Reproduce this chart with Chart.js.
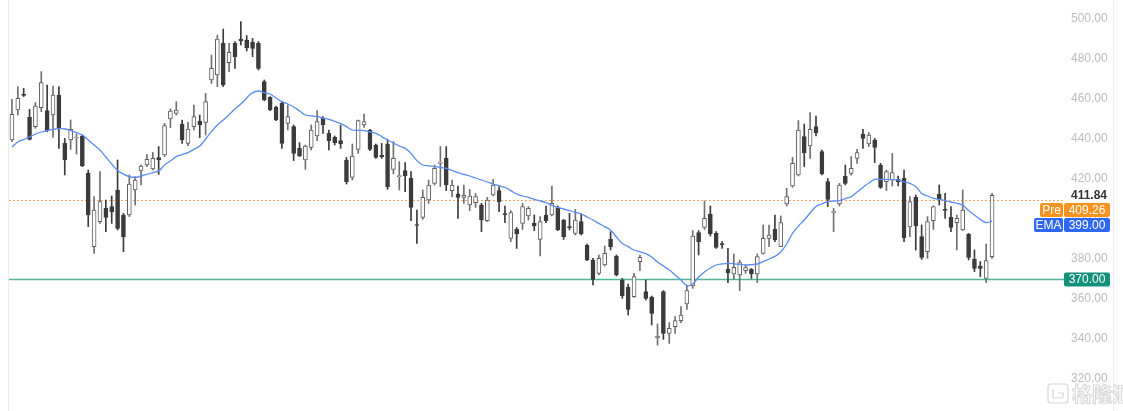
<!DOCTYPE html>
<html>
<head>
<meta charset="utf-8">
<script src="https://cdn.jsdelivr.net/npm/chart.js@4.4.0/dist/chart.umd.min.js"></script>
<style>
  html, body { margin: 0; padding: 0; background: #fff; }
  #wrap { width: 1123px; height: 411px; position: relative; }
</style>
</head>
<body>
<div id="wrap"><canvas id="kline" width="1123" height="411"></canvas></div>
<script>
// 日K数据
const openP = [
  439.5, 454.5, 462.3, 450.8, 446.2, 455.7, 454.2, 452, 462, 437.8,
  439.5, 440.5, 441.5, 422.8, 386.2, 398.7, 405.3, 406.2, 414.5, 402,
  402, 414.5, 424, 427, 425, 430.7, 432, 450, 452.8, 447.3,
  437.8, 446.2, 449, 448.3, 469.5, 472, 487.8, 478.2, 487.8, 490,
  489.5, 488.3, 487.8, 468.7, 460.8, 455.8, 457.8, 447.8, 446.2, 435.3,
  429.5, 435.8, 441.5, 450.3, 442.8, 440.8, 439.2, 429.5, 420.8, 434.8,
  447, 444.5, 437, 431.8, 437.5, 424.8, 421.2, 424.2, 420.3, 397.2,
  400.8, 409.5, 417.8, 427.8, 430.3, 414.2, 412.5, 410.8, 407, 408.2,
  407, 399.2, 412, 414.2, 402.7, 390.3, 394.8, 397.8, 401.5, 397.8,
  389.8, 402, 402, 405.3, 399.5, 396.2, 392.8, 398.7, 387, 379.5,
  372.8, 377, 389.8, 381.5, 369.5, 365.8, 361.2, 378.7, 363.7, 361,
  340.5, 363.7, 342.8, 346.2, 349.2, 357.5, 366.5, 393.2, 395.8, 402.5,
  392.8, 387.7, 374.8, 372.5, 372, 374.2, 374.8, 372.5, 382.8, 390.3,
  394.8, 386.2, 407.5, 416.5, 422, 441.2, 436.5, 446.2, 433.7, 418.7,
  403.2, 407.5, 421.5, 422.8, 430.3, 442.3, 437.5, 439.5, 427, 418.7,
  419.5, 419.8, 420.3, 396, 410.8, 391.2, 383.7, 399.2, 412.3, 404.8,
  400.8, 398.2, 394.5, 392.5, 379.8, 376.5, 370.3, 381.2
];
const highP = [
  459.8, 466.2, 465.3, 454.8, 458.2, 473.7, 467, 466.5, 466.2, 440.3,
  449.5, 442.5, 442, 424.5, 411.2, 423.7, 409.5, 411.5, 429.5, 402.8,
  422, 421.2, 427, 432.3, 433.3, 436.2, 447.8, 455, 458.7, 449.5,
  448.3, 457, 452, 462.8, 482, 492, 495, 487.8, 488.7, 498.7,
  491.7, 490.3, 488.7, 469.5, 461.2, 456.5, 458.7, 457, 447, 438.2,
  437, 447, 454.2, 451.2, 444.5, 441.5, 447, 430.8, 437.5, 449.5,
  452.5, 444.8, 437.5, 437.8, 439.8, 438.7, 428.7, 428.2, 423.7, 404.5,
  414.5, 419.5, 427, 436.2, 436.2, 419.5, 416.5, 417, 414.8, 412.8,
  407.8, 410.8, 419.8, 416.2, 406.5, 404.2, 395.8, 407.8, 406.2, 402,
  401.2, 406.5, 416.5, 406.5, 399.8, 402.8, 404.8, 402.5, 387.5, 380.3,
  382, 386.5, 393.7, 382, 370.3, 367.5, 372.8, 382, 369.5, 361.5,
  347.5, 364.2, 348.2, 351.2, 356.2, 367, 394.2, 394.2, 409, 406.5,
  393.7, 388.7, 385.3, 382.5, 379.5, 377, 375.3, 382.5, 397, 397,
  402, 401.5, 415.3, 430.8, 449.2, 447.5, 453.2, 451.5, 434.5, 420.3,
  405.3, 417.8, 427, 431.2, 434.8, 444.8, 443.2, 440.3, 427.8, 424.5,
  432.8, 421.5, 424.5, 411.2, 412, 397, 401.2, 406.5, 417, 412.8,
  406.2, 402, 414.5, 392.8, 384.5, 378.7, 387.5, 412.8
];
const lowP = [
  438.7, 452, 461.2, 439.5, 445.3, 453.7, 443.7, 440.8, 435.3, 422,
  434.8, 432.5, 426.2, 396.2, 382.8, 397.8, 393.7, 397.8, 394.5, 383.7,
  401.2, 407, 417, 426.2, 424.5, 422.3, 431.2, 445.7, 452, 437.8,
  436.7, 444.5, 440.7, 442, 467.8, 466.2, 466.2, 473.7, 475.3, 487,
  484, 481.2, 474.5, 459.2, 454.2, 449.2, 435.3, 444.5, 429.2, 431.2,
  424.8, 434.5, 439.2, 442.8, 434.5, 437, 435.3, 417.5, 419.5, 432.8,
  445.8, 434.2, 430.3, 430.3, 414.8, 422.5, 414.5, 413.7, 399.2, 387.8,
  399.8, 407.8, 417, 416.2, 414.2, 411.2, 400.3, 407.8, 404.2, 405.8,
  393.7, 398.7, 411.5, 403.7, 398.2, 388.7, 385.3, 394.8, 399.5, 394.2,
  381.5, 398.2, 401.5, 394.2, 389.8, 394.5, 392, 392, 379.2, 367,
  372, 376.5, 384.5, 371.5, 360.3, 352, 360.8, 374.2, 359.5, 347,
  337, 339.8, 337.8, 342.8, 348.2, 354.8, 365.3, 382, 394.8, 391.5,
  385.3, 385.3, 368.2, 369.8, 364.2, 372.8, 370.3, 368.2, 382.5, 386.2,
  388.7, 386.2, 406.5, 415.8, 421.5, 426.2, 430.3, 441.5, 422, 406.2,
  393.7, 406.5, 417, 422, 427.8, 435.3, 436.2, 428.2, 415.3, 414.2,
  416.5, 416.5, 388.7, 391.2, 384.5, 379.8, 380.3, 394.8, 407, 400.3,
  393.7, 384.5, 394.2, 379.5, 373.7, 371.2, 368.2, 380.3
];
const closeP = [
  452.3, 460.3, 461.8, 439.8, 456.5, 468.2, 444, 462, 445.3, 429.5,
  444.8, 441, 426.5, 402, 404.5, 408.7, 400.8, 403.7, 395.3, 391.2,
  417.5, 419.5, 426.5, 429.8, 430.3, 429.5, 446.7, 454, 454.5, 439.5,
  445, 451.2, 447, 458.7, 475.3, 490, 467, 483.3, 481.2, 489,
  485.7, 485.3, 475.3, 459.5, 454.5, 449.5, 437.8, 451.2, 432.8, 431.5,
  436.5, 444.5, 448.7, 447, 439.2, 438.2, 437.5, 418.7, 431.5, 449.2,
  448.7, 434.8, 430.8, 431.2, 416.2, 430.3, 421.7, 421.5, 405.8, 396.8,
  410.8, 417, 425.3, 428.5, 417, 417, 410.8, 411.8, 411.5, 411.2,
  399.5, 409.5, 417, 408.7, 402.2, 403.2, 392.5, 406.2, 405.3, 396.5,
  398.7, 399.2, 407.8, 394.5, 391.2, 395.7, 399.5, 392.5, 379.5, 369.8,
  380.3, 382.8, 386.2, 372, 361.5, 354.8, 371.2, 380.8, 360.3, 352.8,
  341.5, 342.8, 345.3, 349.2, 352, 364.2, 391.5, 388.7, 400.3, 392.5,
  385.8, 387.2, 373.2, 375.8, 378.2, 375.7, 372.5, 381.2, 390.3, 392,
  389.5, 398.2, 411.2, 427.8, 444.5, 433.2, 444.8, 443.2, 422.5, 409.8,
  403.7, 417, 417.8, 425.3, 433.2, 440.3, 442, 435.8, 415.8, 423.7,
  423.2, 418.7, 390.5, 408.7, 396.5, 380.8, 398.7, 406.2, 409.8, 404.3,
  395.8, 400.3, 404.5, 380.8, 375.3, 375.3, 379.2, 411.84
];
const emaP = [
  436, 438.5, 439.7, 441, 442.5, 443.5, 444.2, 444.8, 445.3, 445,
  444.3, 443.2, 442, 439.5, 437, 434.5, 431, 427.5, 424.3, 422.5,
  421.2, 420.8, 421.5, 422.3, 423.2, 424, 427, 429, 431.2, 432.2,
  433.2, 434.8, 436.5, 440, 443.7, 447, 449.5, 452.2, 455, 457.5,
  460.5, 463.2, 464, 463.2, 462.5, 460.5, 458.7, 457.5, 456, 454,
  452, 451.6, 451.2, 450.5, 449.8, 448.8, 447.8, 446.2, 444.5, 444.3,
  444.2, 443.5, 442.8, 441.2, 439.5, 438, 436.5, 435.3, 432.8, 429.2,
  427, 426.6, 426.2, 425.8, 425.3, 424.3, 423.2, 422.3, 421.5, 420.5,
  419.5, 418.5, 417.5, 416.7, 415.8, 414.2, 412.5, 411.5, 410.8, 409.8,
  409, 408.2, 406.8, 405.8, 405, 404.2, 403.3, 402.5, 401, 399.5,
  397.8, 396.2, 394.5, 391, 387.8, 386.2, 384.5, 383.6, 382.7, 381,
  378.5, 376.5, 374.5, 372, 369.5, 366.7, 367.5, 371, 373.5, 375.5,
  377, 377.5, 377.8, 377.6, 377.3, 377, 377.2, 377.5, 378.7, 380,
  381.3, 383.5, 387.5, 392.8, 396.5, 399.5, 403, 406.2, 407.5, 408.7,
  409, 409.2, 410.2, 411.2, 413.5, 415.8, 418, 419.8, 419.8, 419.8,
  419.7, 419.5, 418.6, 417.8, 416.2, 412.8, 411.5, 410.3, 409.8, 409.2,
  408.5, 407.8, 407, 404.2, 402, 399.8, 398.2, 399
];
const yTicks = [320, 340, 360, 380, 400, 420, 440, 460, 480, 500];
const lastPrice = 411.84;
const prePrice = 409.26;
const emaLast = 399.00;
const supportLine = 370.00;

const days = openP.map((_, i) => String(i + 1));
const isUp = openP.map((o, i) => closeP[i] >= o);

// 横线和右侧标签
const overlay = {
  id: 'overlay',
  beforeDatasetsDraw(chart) {
    const { ctx, chartArea } = chart;
    const y = chart.scales.y;
    ctx.save();
    // 边框细线
    ctx.strokeStyle = '#ededed';
    ctx.lineWidth = 1;
    ctx.beginPath();
    ctx.moveTo(8.5, 0); ctx.lineTo(8.5, 411);
    ctx.moveTo(1113.5, 0); ctx.lineTo(1113.5, 411);
    ctx.stroke();
    // 370 支撑线
    const ys = Math.round(y.getPixelForValue(supportLine)) + 0.5;
    ctx.strokeStyle = '#4fb59d';
    ctx.lineWidth = 1.3;
    ctx.beginPath();
    ctx.moveTo(chartArea.left, ys); ctx.lineTo(1064, ys);
    ctx.stroke();
    // Pre 虚线
    const yp = Math.round(y.getPixelForValue(prePrice)) + 0.5;
    ctx.strokeStyle = '#f6a562';
    ctx.lineWidth = 1;
    ctx.setLineDash([2, 2]);
    ctx.beginPath();
    ctx.moveTo(chartArea.left, yp); ctx.lineTo(1063, yp);
    ctx.stroke();
    ctx.restore();
  },
  afterDraw(chart) {
    const { ctx } = chart;
    const y = chart.scales.y;
    const font = '12px "Liberation Sans", Arial, sans-serif';
    ctx.save();
    const yl = y.getPixelForValue(lastPrice);
    ctx.font = 'bold ' + font;
    ctx.fillStyle = '#333333';
    ctx.textAlign = 'left';
    ctx.textBaseline = 'middle';
    ctx.fillText(lastPrice.toFixed(2), 1071, yl);

    function box(x, top, w, h, color, text) {
      ctx.fillStyle = color;
      ctx.beginPath();
      ctx.roundRect(x, top, w, h, 2);
      ctx.fill();
      ctx.fillStyle = '#ffffff';
      ctx.font = font;
      ctx.textAlign = 'center';
      ctx.fillText(text, x + w / 2, top + h / 2 + 0.5);
    }
    const top = Math.round(yl) + 8;
    box(1040, top, 23, 14, '#f7931e', 'Pre');
    box(1064, top, 46, 14, '#f7931e', prePrice.toFixed(2));
    box(1034, top + 15, 29, 14, '#2f68f5', 'EMA');
    box(1064, top + 15, 46, 14, '#2f68f5', emaLast.toFixed(2));
    const ys = y.getPixelForValue(supportLine);
    box(1064, Math.round(ys) - 6.5, 46, 14, '#13907a', supportLine.toFixed(2));

    // 水印
    ctx.strokeStyle = '#d6d6d6';
    ctx.lineWidth = 1.2;
    ctx.beginPath();
    ctx.roundRect(1048, 384, 20, 19, 3);
    ctx.moveTo(1053, 389); ctx.lineTo(1053, 398); ctx.lineTo(1063, 398);
    ctx.moveTo(1058, 393); ctx.lineTo(1063, 393); ctx.lineTo(1063, 398);
    ctx.stroke();
    ctx.font = 'bold 20px "Noto Sans CJK SC", sans-serif';
    ctx.textAlign = 'left';
    ctx.lineWidth = 1;
    ctx.strokeText('格隆汇', 1072, 394);
    ctx.restore();
  }
};

new Chart(document.getElementById('kline'), {
  type: 'bar',
  data: {
    labels: days,
    datasets: [
      {
        label: 'EMA',
        type: 'line',
        data: emaP,
        borderColor: '#5a8cf4',
        borderWidth: 1.3,
        pointRadius: 0,
        tension: 0.35,
        order: 0
      },
      {
        label: 'body',
        data: openP.map((o, i) => [o, closeP[i]]),
        backgroundColor: isUp.map(u => u ? '#ffffff' : '#3b3b3b'),
        borderColor: isUp.map(u => u ? '#5e5e5e' : '#3b3b3b'),
        borderWidth: 1,
        borderSkipped: false,
        barThickness: 4,
        grouped: false,
        order: 1
      },
      {
        label: 'wick',
        data: lowP.map((l, i) => [l, highP[i]]),
        backgroundColor: isUp.map(u => u ? '#707070' : '#3b3b3b'),
        barThickness: 1,
        grouped: false,
        order: 2
      }
    ]
  },
  options: {
    responsive: false,
    animation: false,
    layout: { padding: { left: 9, top: 19, bottom: 32, right: 0 } },
    plugins: {
      legend: { display: false },
      tooltip: { enabled: false }
    },
    scales: {
      x: {
        type: 'category',
        display: false,
        offset: true,
        grid: { display: false }
      },
      y: {
        position: 'right',
        min: 320,
        max: 500,
        afterFit(scale) {
          scale.width = 128;
          scale.paddingTop = 0;
          scale.paddingBottom = 0;
        },
        afterBuildTicks(scale) { scale.ticks = yTicks.map(v => ({ value: v })); },
        grid: { display: false, drawTicks: false },
        border: { display: false },
        ticks: {
          padding: 76,
          color: '#bdbdbd',
          font: { size: 12, family: '"Liberation Sans", Arial, sans-serif' },
          callback: v => Number(v).toFixed(2)
        }
      }
    }
  },
  plugins: [overlay]
});
</script>
</body>
</html>
